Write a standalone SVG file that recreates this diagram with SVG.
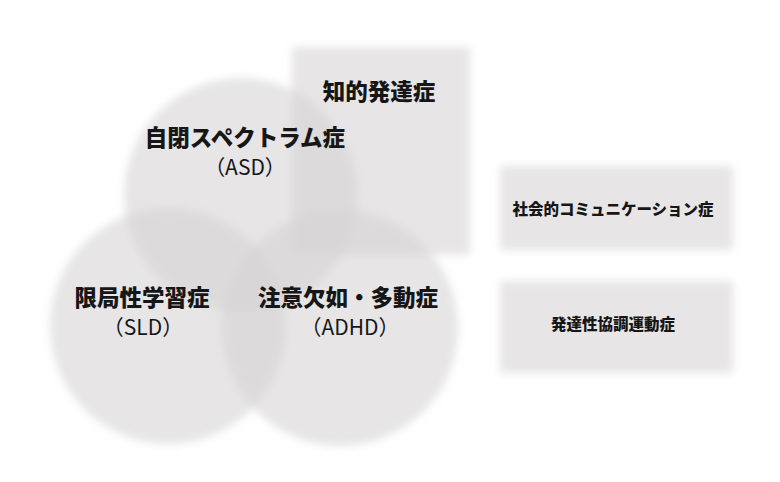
<svg xmlns="http://www.w3.org/2000/svg" width="780" height="482" viewBox="0 0 780 482">
  <defs>
    <filter id="soft" x="-20%" y="-20%" width="140%" height="140%">
      <feGaussianBlur stdDeviation="4.5"/>
    </filter>
    <style>
      .shape { fill: #d6d3d4; fill-opacity: 0.58; filter: url(#soft); }
      .box { fill: #e7e5e6; filter: url(#soft); }
      .jp { font-family: "Noto Sans CJK JP", "Noto Sans", sans-serif; fill: #161616; text-anchor: middle; }
      .big { font-size: 22.5px; font-weight: 900; }
      .sub { font-size: 21px; font-weight: 400; }
      .small { font-size: 15.5px; font-weight: 900; }
    </style>
  </defs>
  <rect width="780" height="482" fill="#ffffff"/>

  <g id="node-intellectual">
    <rect class="box" x="292" y="47" width="178" height="208"/>
    <text class="jp big" x="379" y="100">知的発達症</text>
  </g>

  <g id="node-social">
    <rect class="box" x="500" y="166" width="233" height="84"/>
    <text class="jp small" x="613" y="215">社会的コミュニケーション症</text>
  </g>

  <g id="node-dcd">
    <rect class="box" x="500" y="281" width="233" height="92"/>
    <text class="jp small" x="613" y="330">発達性協調運動症</text>
  </g>

  <g id="node-asd">
    <circle class="shape" cx="241" cy="195" r="117"/>
  </g>
  <g id="node-sld">
    <circle class="shape" cx="168" cy="326" r="118"/>
  </g>
  <g id="node-adhd">
    <circle class="shape" cx="340" cy="328" r="118"/>
  </g>

  <g id="labels">
    <text class="jp big" x="245" y="146">自閉スペクトラム症</text>
    <text class="jp sub" x="245" y="175">（ASD）</text>
    <text class="jp big" x="142" y="306">限局性学習症</text>
    <text class="jp sub" x="143" y="335">（SLD）</text>
    <text class="jp big" x="348" y="306">注意欠如・多動症</text>
    <text class="jp sub" x="350" y="335">（ADHD）</text>
  </g>
</svg>
